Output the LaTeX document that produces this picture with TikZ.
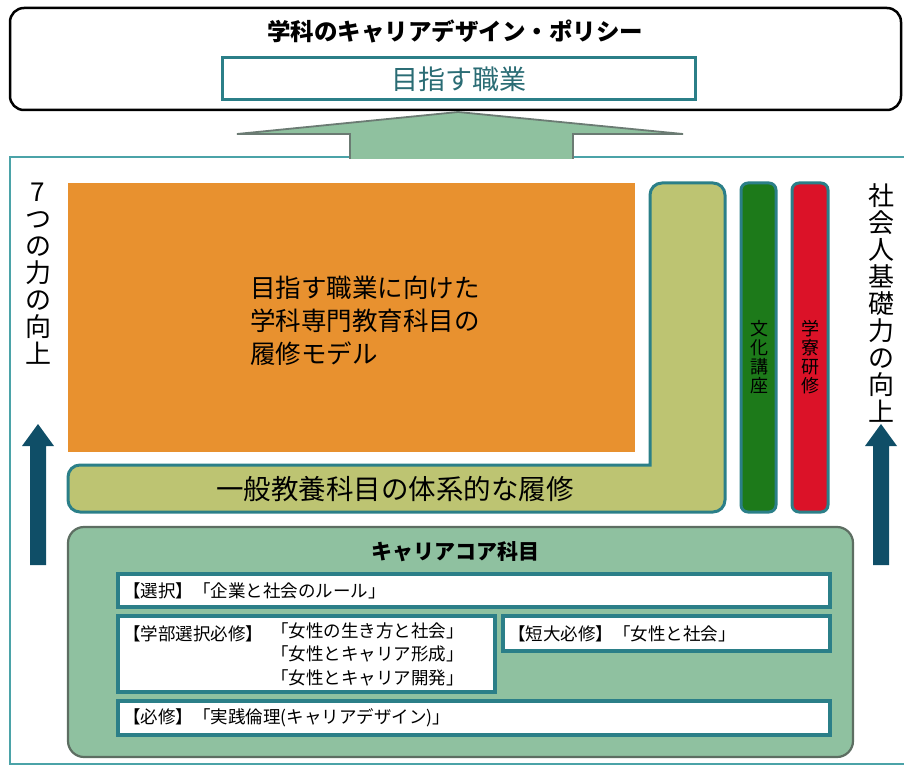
\documentclass[tikz,border=0pt]{standalone}
\usepackage{fontspec}
\setmainfont{Noto Sans CJK JP}
\usetikzlibrary{positioning}
\definecolor{tealb}{HTML}{2B7F88}
\definecolor{framec}{HTML}{4BA3A8}
\definecolor{arrowg}{HTML}{8FC19F}
\definecolor{arrowgb}{HTML}{6B7B73}
\definecolor{darkar}{HTML}{0F4E67}
\definecolor{orangec}{HTML}{E8912F}
\definecolor{olivec}{HTML}{BDC472}
\definecolor{greenc}{HTML}{1D7A1A}
\definecolor{redc}{HTML}{DB1228}
\definecolor{coref}{HTML}{8FC1A0}
\definecolor{coreb}{HTML}{5D6E62}
\definecolor{goaltxt}{HTML}{2A6C74}
\tikzset{
  x=1pt, y=-1pt,
  item/.style={draw=tealb, line width=3.2pt, fill=white},
  itemtxt/.style={anchor=west, inner sep=0pt, font=\fontsize{17.5}{23.5}\selectfont},
  vtext/.style={align=center, inner sep=0pt, font=\fontsize{26}{27}\selectfont},
  vbar/.style={align=center, inner sep=0pt, font=\fontsize{18}{19}\selectfont},
  uparrow/.style={fill=darkar, draw=none}
}
\begin{document}
\begin{tikzpicture}
\useasboundingbox (0,0) rectangle (904,767);
% top box
\draw[black, line width=2.5pt, rounded corners=14] (10,8) rectangle (901,110);
\node[font=\bfseries\fontsize{23.5}{26}\selectfont] (policy) at (455,31) {学科のキャリアデザイン・ポリシー};
\draw[draw=tealb, line width=3pt, fill=white] (222,58) rectangle (695,100);
\node[text=goaltxt, font=\fontsize{27}{30}\selectfont] (goal) at (459,79) {目指す職業};
% outer frame
\draw[draw=framec, line width=2.2pt] (10,157) rectangle (912,764);
% big arrow
\draw[fill=arrowg, draw=arrowgb, line width=1.8pt] (350,159) -- (350,134) -- (237,134) -- (458,112) -- (683,134) -- (573,134) -- (573,159);
% left text and arrow
\node[vtext, anchor=north] (seven) at (38,183) {7\\つ\\の\\力\\の\\向\\上};
\fill[uparrow] (30,565) -- (30,446) -- (22,446) -- (38,424) -- (54,446) -- (46,446) -- (46,565) -- cycle;
% right text and arrow
\node[vtext, anchor=north] (social) at (881,183) {社\\会\\人\\基\\礎\\力\\の\\向\\上};
\fill[uparrow] (873,565) -- (873,446) -- (865,446) -- (881,424) -- (897,446) -- (889,446) -- (889,565) -- cycle;
% orange block
\fill[orangec] (68,183) rectangle (635,452);
\node[align=left, anchor=north west, inner sep=0pt, font=\fontsize{25.5}{33}\selectfont] (model) at (250,276) {目指す職業に向けた\\学科専門教育科目の\\履修モデル};
% L shape
\draw[draw=tealb, line width=3pt, fill=olivec, rounded corners=12] (68,488) -- (68,465) [sharp corners] -- (650,465) [rounded corners=12] -- (650,183) -- (725,183) -- (725,512) -- (68,512) -- cycle;
\node[font=\fontsize{27.5}{30}\selectfont] (general) at (395,489) {一般教養科目の体系的な履修};
% bars
\draw[draw=tealb, line width=3pt, fill=greenc, rounded corners=7] (741,183) rectangle (776,512);
\node[vbar] (culture) at (759,357) {文\\化\\講\\座};
\draw[draw=tealb, line width=3pt, fill=redc, rounded corners=7] (792,183) rectangle (828,512);
\node[vbar] (dorm) at (810,357) {学\\寮\\研\\修};
% career core
\draw[draw=coreb, line width=2.2pt, fill=coref, rounded corners=16] (68,527) rectangle (853,757);
\node[font=\bfseries\fontsize{21}{24}\selectfont] (core) at (455,552) {キャリアコア科目};
\draw[item] (118,574) rectangle (830,607);
\node[itemtxt] (sel) at (123,591) {【選択】「企業と社会のルール」};
\draw[item] (118,616) rectangle (495,692);
\node[itemtxt] (fac) at (123,634) {【学部選択必修】};
\node[itemtxt, align=left, anchor=north west] (facl) at (271,622) {「女性の生き方と社会」\\「女性とキャリア形成」\\「女性とキャリア開発」};
\draw[item] (503,616) rectangle (830,651);
\node[itemtxt] (jc) at (508,634) {【短大必修】「女性と社会」};
\draw[item] (118,701) rectangle (830,735);
\node[itemtxt] (req) at (123,718) {【必修】「実践倫理(キャリアデザイン)」};
\end{tikzpicture}
\end{document}
